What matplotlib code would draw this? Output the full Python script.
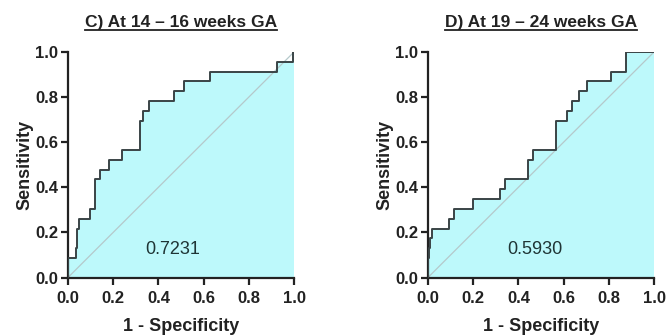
import matplotlib
matplotlib.use("Agg")
import matplotlib.pyplot as plt
from matplotlib.lines import Line2D

plt.rcParams['font.family'] = ['Liberation Sans', 'DejaVu Sans']

# Panel C: step ROC curve (1-specificity, sensitivity) vertices
c_fpr  = [0.0, 0.0, 0.034, 0.034, 0.04, 0.04, 0.047, 0.047, 0.096, 0.096, 0.118, 0.118,
          0.14, 0.14, 0.182, 0.182, 0.239, 0.239, 0.32, 0.32, 0.33, 0.33, 0.36, 0.36,
          0.47, 0.47, 0.514, 0.514, 0.628, 0.628, 0.923, 0.923, 0.997, 0.997, 1.0]
c_sens = [0.0, 0.087, 0.087, 0.13, 0.13, 0.217, 0.217, 0.261, 0.261, 0.304, 0.304, 0.435,
          0.435, 0.478, 0.478, 0.522, 0.522, 0.565, 0.565, 0.696, 0.696, 0.739, 0.739, 0.783,
          0.783, 0.826, 0.826, 0.870, 0.870, 0.913, 0.913, 0.957, 0.957, 1.0, 1.0]
c_auc = "0.7231"
c_title = "C) At 14 \u2013 16 weeks GA"

# Panel D
d_fpr  = [0.0, 0.0, 0.006, 0.006, 0.011, 0.011, 0.018, 0.018, 0.091, 0.091, 0.113, 0.113,
          0.199, 0.199, 0.32, 0.32, 0.342, 0.342, 0.442, 0.442, 0.464, 0.464, 0.566, 0.566,
          0.614, 0.614, 0.636, 0.636, 0.67, 0.67, 0.703, 0.703, 0.81, 0.81, 0.876, 0.876, 1.0]
d_sens = [0.0, 0.087, 0.087, 0.13, 0.13, 0.174, 0.174, 0.217, 0.217, 0.261, 0.261, 0.304,
          0.304, 0.348, 0.348, 0.391, 0.391, 0.435, 0.435, 0.522, 0.522, 0.565, 0.565, 0.696,
          0.696, 0.739, 0.739, 0.783, 0.783, 0.826, 0.826, 0.870, 0.870, 0.913, 0.913, 1.0, 1.0]
d_auc = "0.5930"
d_title = "D) At 19 \u2013 24 weeks GA"

ticks = [0.0, 0.2, 0.4, 0.6, 0.8, 1.0]
tick_labels = ["0.0", "0.2", "0.4", "0.6", "0.8", "1.0"]

fig = plt.figure(figsize=(6.67, 3.35), dpi=100)
W, H = 667, 335

def make_ax(x0, x1, y0, y1):
    return fig.add_axes([x0 / W, 1 - y1 / H, (x1 - x0) / W, (y1 - y0) / H])

axes = [make_ax(68, 294, 52, 277.5), make_ax(428, 654, 52, 277.5)]
panels = [(c_fpr, c_sens, c_auc, c_title, (0.465, 0.126)),
          (d_fpr, d_sens, d_auc, d_title, (0.473, 0.122))]

titles = []
for ax, (fpr, sens, auc, title, auc_pos) in zip(axes, panels):
    ax.fill_between(fpr, sens, 0, color='#bdf9fb', linewidth=0, zorder=1)
    ax.plot([0, 1], [0, 1], color='#b5c9cb', linewidth=0.9, zorder=2)
    ax.plot(fpr, sens, color='#3a4446', linewidth=1.4, zorder=3)
    ax.set_xlim(0, 1)
    ax.set_ylim(0, 1)
    ax.set_xticks(ticks)
    ax.set_yticks(ticks)
    ax.set_xticklabels(tick_labels)
    ax.set_yticklabels(tick_labels)
    for s in ['top', 'right']:
        ax.spines[s].set_visible(False)
    for s in ['left', 'bottom']:
        ax.spines[s].set_linewidth(1.6)
        ax.spines[s].set_color('#222222')
    ax.tick_params(direction='out', length=5, width=1.6, color='#222222',
                   labelsize=12, pad=2)
    ax.tick_params(axis='x', pad=4.5)
    for lab in ax.get_xticklabels() + ax.get_yticklabels():
        lab.set_fontweight('bold')
        lab.set_color('#222222')
    ax.set_xlabel("1 - Specificity", fontsize=13, fontweight='bold', color='#222222', labelpad=9)
    ax.set_ylabel("Sensitivity", fontsize=13, fontweight='bold', color='#222222', labelpad=1)
    ax.text(auc_pos[0], auc_pos[1], auc, fontsize=13, color='#1f3535', ha='center', va='center',
            transform=ax.transAxes, zorder=4)
    t = ax.set_title(title, fontsize=12.5, fontweight='bold', color='#222222', pad=18)
    titles.append(t)

fig.canvas.draw()
renderer = fig.canvas.get_renderer()
for t in titles:
    bb = t.get_window_extent(renderer)
    y = bb.y0 + 0.5
    fig.add_artist(Line2D([bb.x0 / W, bb.x1 / W], [y / H, y / H],
                          transform=fig.transFigure, color='#222222', linewidth=1.3))

fig.savefig("out.png", dpi=100)
